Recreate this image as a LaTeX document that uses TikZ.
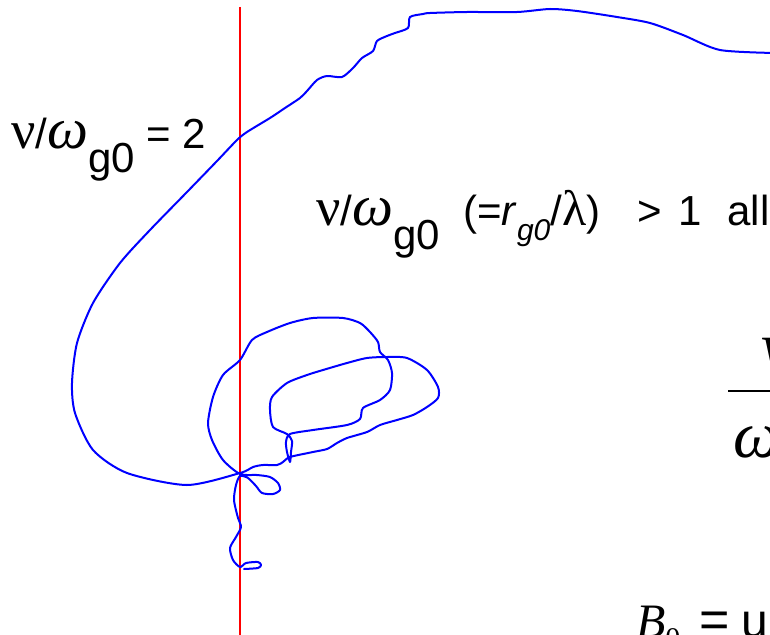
\documentclass[tikz,border=0pt]{standalone}
\usepackage{fontspec}
\setmainfont{Liberation Sans}
\newfontfamily\serifgr{Liberation Serif}
\newcommand{\nuchar}{{\serifgr\fontsize{54}{56}\selectfont ν}}
\newcommand{\omchar}{{\serifgr\itshape\fontsize{58}{60}\selectfont ω}}
\begin{document}
\begin{tikzpicture}[x=1pt,y=-1pt,
  traj/.style={draw=blue, line width=2pt, line join=round, line cap=round},
  marker/.style={draw=red, line width=1.4pt},
  lbl/.style={inner sep=0pt, outer sep=0pt, anchor=base west, font=\fontsize{42}{46}\selectfont},
  big/.style={inner sep=0pt, outer sep=0pt, anchor=base west}]
\useasboundingbox (0,0) rectangle (770,634);
\clip (0,0) rectangle (770,634);
\fill[white] (0,0) rectangle (770,634);

% red vertical line
\coordinate (rtop) at (240,7);
\coordinate (rbot) at (240,640);
\draw[marker] (rtop) -- (rbot);

% blue trajectory
\draw[traj] plot[smooth, tension=0.45] coordinates {
(775,53) (720,50) (683,35) (650,23) (617,17) (577,11) (550,9) (517,12) (467,12) (430,13) (423,14) (410,17) (408,28) (395,33) (387,36) (377,41) (373,51) (362,58) (353,68) (342,77) (327,76) (317,80) (307,91) (300,98) (285,108) (270,118) (247,132) (237,140) (217,161) (187,192) (150,230) (120,263) (93,303) (77,343) (72,383) (75,413) (93,450) (127,473) (187,485) (240,473)
(253,467) (263,465) (277,465) (283,462) (290,457) (313,452) (327,449) (337,443) (347,438) (367,432) (380,425) (397,420) (413,415) (427,407) (438,398) (438,387) (427,370) (407,358) (387,357) (367,358) (347,363) (323,370) (307,375) (287,383) (272,397) (270,410) (273,427) (287,434) (292,441) (291,452) (290,462) (287,452) (286,442) (290,434)
(313,430) (347,425) (360,419) (363,408) (380,400) (390,390) (392,373) (388,360) (380,352) (378,342) (370,332) (360,323) (343,318) (313,318) (290,323) (267,332) (252,340) (240,360) (223,375) (213,397) (208,423) (212,440) (223,460) (240,474)
(257,475) (270,477) (278,483) (280,490) (273,494) (262,493) (256,486) (248,478) (240,476)
(236,485) (234,500) (238,518) (241,527) (236,537) (230,548) (233,560) (240,567) (246,563) (258,562) (261,565) (258,568) (244,569)
};

% label 1
\node[lbl] (lab1) at (11,148) {\nuchar/\omchar\raisebox{-24pt}{g0} = 2};

% label 2
\node[lbl] (lab2) at (316,225) {\nuchar/\omchar\raisebox{-24pt}{g0}\ \ (=\textit{r}\raisebox{-15pt}{\fontsize{30}{32}\selectfont\textit{g0}}/{\serifgr\fontsize{50}{52}\selectfont λ})\ \ \hspace{14pt}{>}\hspace{16pt}1\hspace{26pt}all};

% fraction at right
\node[big, font=\serifgr\itshape\fontsize{66}{70}\selectfont] (fnu) at (761,368) {ν};
\coordinate (barL) at (728,391);
\coordinate (barR) at (780,391);
\draw[line width=2.6pt] (barL) -- (barR);
\node[big, font=\serifgr\itshape\fontsize{66}{70}\selectfont] (fom) at (733,457) {ω};

% B0 = u
\node[big] (bz) at (636,637) {{\serifgr\itshape\fontsize{48}{50}\selectfont B}\raisebox{-11pt}{\serifgr\fontsize{30}{32}\selectfont 0}\hspace{19pt}{\fontsize{52}{54}\selectfont =}\hspace{12pt}{\fontsize{48}{50}\selectfont u}};
\end{tikzpicture}
\end{document}
